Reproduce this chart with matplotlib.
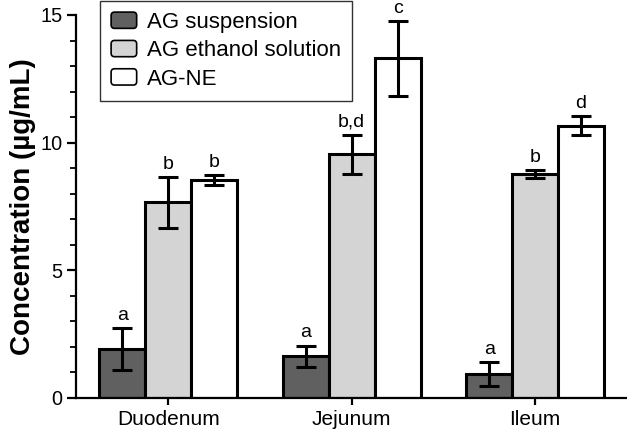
import matplotlib
matplotlib.use("Agg")
import matplotlib.pyplot as plt
import numpy as np
from matplotlib.patches import FancyBboxPatch, Rectangle
from matplotlib.legend_handler import HandlerPatch
from matplotlib.ticker import MultipleLocator

categories = ["Duodenum", "Jejunum", "Ileum"]
series_names = ["AG suspension", "AG ethanol solution", "AG-NE"]
suspension = [1.92, 1.64, 0.92]
suspension_err = [0.83, 0.41, 0.47]
ethanol = [7.66, 9.54, 8.78]
ethanol_err = [1.0, 0.77, 0.16]
ne = [8.53, 13.30, 10.67]
ne_err = [0.2, 1.47, 0.37]
letters_suspension = ["a", "a", "a"]
letters_ethanol = ["b", "b,d", "b"]
letters_ne = ["b", "c", "d"]

colors = ["#606060", "#d4d4d4", "#ffffff"]

plt.rcParams['font.family'] = ['Liberation Sans', 'DejaVu Sans']

fig = plt.figure(figsize=(6.27, 4.36), dpi=100)
ax = fig.add_axes([0.122, 0.0872, 0.878, 0.8784])

x = np.arange(len(categories))
w = 0.25
data = [(suspension, suspension_err, letters_suspension),
        (ethanol, ethanol_err, letters_ethanol),
        (ne, ne_err, letters_ne)]
handles = []
for i, (vals, errs, lets) in enumerate(data):
    pos = x + (i - 1) * w
    b = ax.bar(pos, vals, w, color=colors[i], edgecolor='black', linewidth=2.2,
               label=series_names[i], zorder=2)
    handles.append(b)
    ax.errorbar(pos, vals, yerr=errs, fmt='none', ecolor='black', elinewidth=2.2,
                capsize=7, capthick=2.2, zorder=3)
    for p, v, e, t in zip(pos, vals, errs, lets):
        ax.annotate(t, (p, v + e), xytext=(0, 3), textcoords='offset points',
                    ha='center', va='bottom', fontsize=14, annotation_clip=False)

ax.set_xlim(-0.5, 2.5)
ax.set_ylim(0, 15)
ax.set_xticks(x)
ax.set_xticklabels(categories, fontsize=15)
ax.set_yticks([0, 5, 10, 15])
ax.tick_params(axis='y', labelsize=14.3, width=1.6, length=6.5, direction='out')
ax.yaxis.set_minor_locator(MultipleLocator(1))
ax.tick_params(axis='y', which='minor', width=1.3, length=4, direction='out')
ax.tick_params(axis='x', width=1.6, length=5, direction='out')
for s in ['top', 'right']:
    ax.spines[s].set_visible(False)
for s in ['left', 'bottom']:
    ax.spines[s].set_linewidth(1.6)
ax.set_ylabel("Concentration (µg/mL)", fontsize=20, fontweight='bold', labelpad=3)


class RoundHandler(HandlerPatch):
    def create_artists(self, legend, orig_handle, xdescent, ydescent, width, height, fontsize, trans):
        p = FancyBboxPatch((-xdescent, -ydescent), width, height,
                           boxstyle="round,pad=0,rounding_size=2.5",
                           facecolor=orig_handle.get_facecolor(),
                           edgecolor='black', linewidth=1.2, transform=trans)
        return [p]


leg = fig.legend(handles=[h.patches[0] for h in handles], labels=series_names,
                 loc='upper left', bbox_to_anchor=(100 / 627, 0.998),
                 fontsize=16, frameon=True, fancybox=False, edgecolor='black',
                 handler_map={Rectangle: RoundHandler()},
                 handlelength=1.15, handleheight=0.75, borderpad=0.5, labelspacing=0.33,
                 handletextpad=0.45, borderaxespad=0)
leg.get_frame().set_linewidth(1.0)

fig.savefig("out.png", dpi=100)
